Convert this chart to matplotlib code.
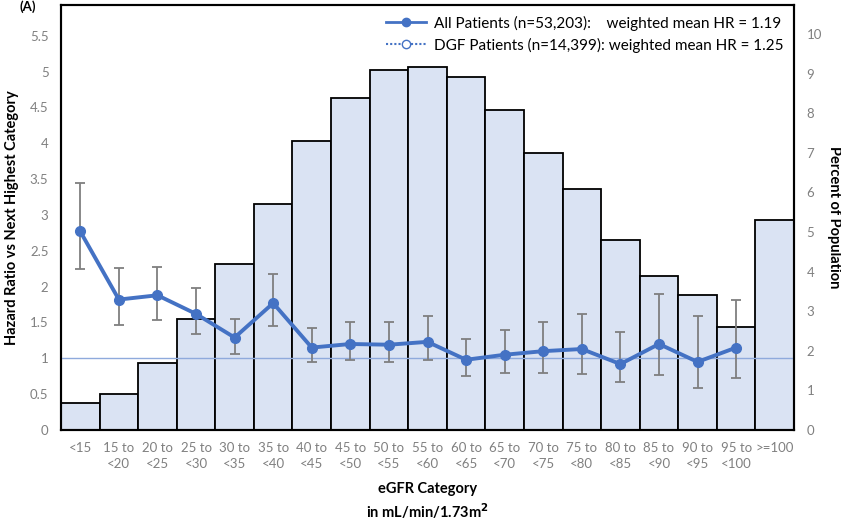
import matplotlib
matplotlib.use("Agg")
import matplotlib.pyplot as plt
from matplotlib.lines import Line2D
import numpy as np

plt.rcParams['font.family'] = ['Lato', 'DejaVu Sans']

categories = ["<15", "15 to\n<20", "20 to\n<25", "25 to\n<30", "30 to\n<35", "35 to\n<40",
              "40 to\n<45", "45 to\n<50", "50 to\n<55", "55 to\n<60", "60 to\n<65", "65 to\n<70",
              "70 to\n<75", "75 to\n<80", "80 to\n<85", "85 to\n<90", "90 to\n<95", "95 to\n<100",
              ">=100"]

# percent of population in each eGFR category
percent = [0.69, 0.90, 1.70, 2.80, 4.20, 5.70, 7.29, 8.38, 9.09, 9.17,
           8.91, 8.08, 7.00, 6.09, 4.80, 3.90, 3.40, 2.61, 5.30]

# hazard ratio vs next highest category (all patients) with 95% CI
hr = [2.77, 1.82, 1.88, 1.62, 1.29, 1.77, 1.15, 1.20, 1.19, 1.23,
      0.98, 1.05, 1.10, 1.13, 0.92, 1.20, 0.95, 1.15]
hr_lo = [2.24, 1.47, 1.54, 1.34, 1.06, 1.45, 0.95, 0.98, 0.95, 0.97,
         0.75, 0.79, 0.80, 0.78, 0.67, 0.77, 0.58, 0.73]
hr_hi = [3.44, 2.26, 2.28, 1.98, 1.55, 2.17, 1.42, 1.50, 1.50, 1.59,
         1.27, 1.40, 1.50, 1.62, 1.37, 1.90, 1.59, 1.81]

left_ticks = [0, 0.5, 1, 1.5, 2, 2.5, 3, 3.5, 4, 4.5, 5, 5.5]
left_tick_labels = ["0", "0.5", "1", "1.5", "2", "2.5", "3", "3.5", "4", "4.5", "5", "5.5"]
right_ticks = list(range(0, 11))

legend_labels = ["All Patients (n=53,203):    weighted mean HR = 1.19",
                 "DGF Patients (n=14,399): weighted mean HR = 1.25"]

line_color = "#4472C4"
bar_color = "#DAE3F3"
tick_color = "#808080"

fig = plt.figure(figsize=(8.41, 5.23), dpi=100)
ax = fig.add_axes([61 / 841, 93 / 523, 733 / 841, 425 / 523])
ax2 = ax.twinx()

x = np.arange(len(categories))

# population bars on the secondary axis
ax2.bar(x, percent, width=1.0, color=bar_color, edgecolor="black", linewidth=1.3, zorder=2)
ax2.set_ylim(0, 10.73)
ax2.set_yticks(right_ticks)
ax2.tick_params(axis='y', length=0, colors=tick_color, labelsize=9.5, pad=9)

# hazard ratio line on the primary axis, drawn above the bars
ax.set_zorder(ax2.get_zorder() + 1)
ax.patch.set_visible(False)
ax.set_xlim(-0.5, len(categories) - 0.5)
ax.set_ylim(0, 5.93)
ax.axhline(1.0, color="#8FAADC", linewidth=1.0, zorder=1)

xh = x[:len(hr)]
hr_arr = np.array(hr)
yerr = np.vstack([hr_arr - np.array(hr_lo), np.array(hr_hi) - hr_arr])
ax.errorbar(xh, hr_arr, yerr=yerr, fmt='none', ecolor="#7F7F7F", elinewidth=1.3,
            capsize=3.5, capthick=1.3, zorder=3)
ax.plot(xh, hr_arr, color=line_color, linewidth=2.8, marker='o', markersize=7,
        markerfacecolor=line_color, markeredgecolor=line_color, zorder=4)

ax.set_yticks(left_ticks)
ax.set_yticklabels(left_tick_labels)
ax.set_xticks(x)
ax.set_xticklabels(categories, linespacing=1.3)
ax.tick_params(axis='y', length=0, colors=tick_color, labelsize=9.5, pad=9)
ax.tick_params(axis='x', length=0, colors=tick_color, labelsize=9.5, pad=9)

for a in (ax, ax2):
    for s in a.spines.values():
        s.set_linewidth(1.5)
        s.set_color("black")

ax.set_ylabel("Hazard Ratio vs Next Highest Category", fontsize=10.5, fontweight='bold',
              labelpad=8)
ax2.set_ylabel("Percent of Population", fontsize=10.5, fontweight='bold', rotation=-90,
               labelpad=14)
ax.set_xlabel("eGFR Category\nin mL/min/1.73m$^\\mathbf{2}$", fontsize=10.5, fontweight='bold',
              labelpad=9, linespacing=1.3)

handles = [
    Line2D([], [], color=line_color, linewidth=2.0, marker='o', markersize=6,
           markerfacecolor=line_color, markeredgecolor=line_color),
    Line2D([], [], color=line_color, linewidth=1.5, linestyle=(0, (1, 1)), marker='o',
           markersize=6, markerfacecolor="white", markeredgecolor=line_color),
]
ax.legend(handles, legend_labels, loc='upper right', bbox_to_anchor=(1.0, 1.0),
          frameon=False, fontsize=11, handlelength=2.6, handletextpad=0.5,
          labelspacing=0.45, borderaxespad=0.3)

# panel letter
fig.text(20 / 841, 0.999, "(A)", fontsize=9.5, fontweight='bold', va='top', ha='left')

fig.savefig("out.png", dpi=100)
